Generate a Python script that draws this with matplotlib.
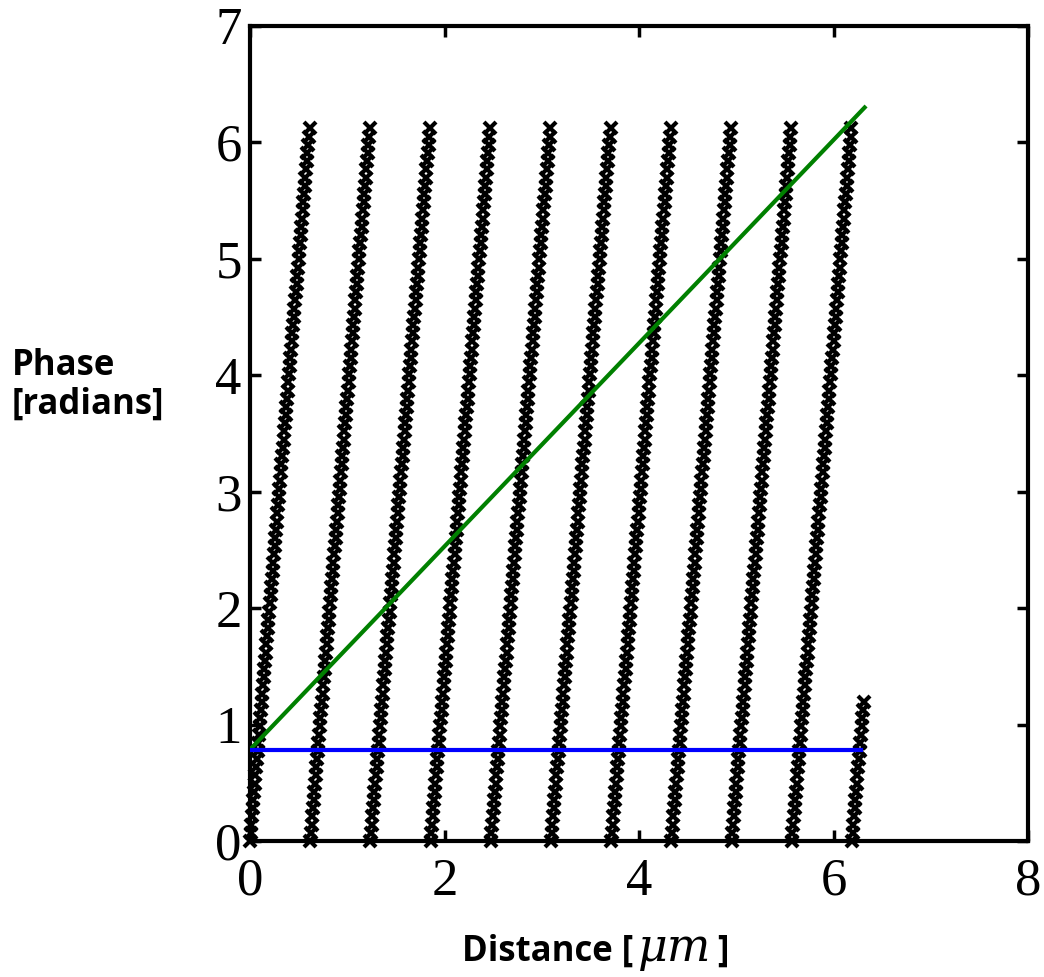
import numpy as np
import matplotlib
matplotlib.use("Agg")
import matplotlib.pyplot as plt
from matplotlib.offsetbox import TextArea, HPacker, AnchoredOffsetbox

# Measured wrapped phase along the sample
distance_end = 6.31           # um
fringe_period = 0.619         # um per wrap
samples_per_fringe = 88
wrap_top = 6.12               # rad, highest phase value before wrapping
distance = np.arange(0.0, distance_end, fringe_period / samples_per_fringe)
wrapped_phase = wrap_top * np.mod(np.round(distance / fringe_period * samples_per_fringe),
                                  samples_per_fringe) / (samples_per_fringe - 1)

# Reference lines
fit_x = [0.0, 6.32]
fit_y = [np.pi / 4, 6.30]
offset_x = [0.0, 6.28]
offset_y = [np.pi / 4, np.pi / 4]

x_ticks = [0, 2, 4, 6, 8]
y_ticks = [0, 1, 2, 3, 4, 5, 6, 7]

W, H = 1044, 977
fig = plt.figure(figsize=(W / 100, H / 100), dpi=100)
ax = fig.add_axes([250 / W, 1 - 841 / H, (1028 - 250) / W, (841 - 26) / H])

ax.plot(distance, wrapped_phase, linestyle="none", marker="x", color="black",
        markersize=8.5, markeredgewidth=3, clip_on=False, zorder=2)
ax.plot(fit_x, fit_y, color="#008000", linewidth=3, zorder=3)
ax.plot(offset_x, offset_y, color="#0000ff", linewidth=3, zorder=3)

ax.set_xlim(0, 8)
ax.set_ylim(0, 7)
ax.set_xticks(x_ticks)
ax.set_yticks(y_ticks)
ax.tick_params(direction="in", length=8, width=2.5, top=True, right=True,
               labelsize=38, pad=6)
ax.tick_params(axis="x", pad=12)
for lbl in ax.get_xticklabels() + ax.get_yticklabels():
    lbl.set_fontfamily("Liberation Serif")
for s in ax.spines.values():
    s.set_linewidth(3)

label_font = dict(fontsize=25, fontweight="bold", family="Open Sans")
unit_font = dict(fontsize=33, fontstyle="italic", family="DejaVu Serif")

fig.text(12 / W, 1 - 385 / H, "Phase\n[radians]", ha="left", va="center",
         linespacing=1.1, **label_font)

# x label: bold words with an italic serif unit
parts = [
    TextArea("Distance [", textprops=label_font),
    TextArea("\u03bcm", textprops=unit_font),
    TextArea("]", textprops=label_font),
]
xlabel_box = HPacker(children=parts, align="baseline", pad=0, sep=4)
anchored = AnchoredOffsetbox(loc="center", child=xlabel_box, frameon=False,
                             bbox_to_anchor=(595 / W, 1 - 948 / H),
                             bbox_transform=fig.transFigure, borderpad=0, pad=0)
fig.add_artist(anchored)

fig.savefig("out.png", dpi=100)
